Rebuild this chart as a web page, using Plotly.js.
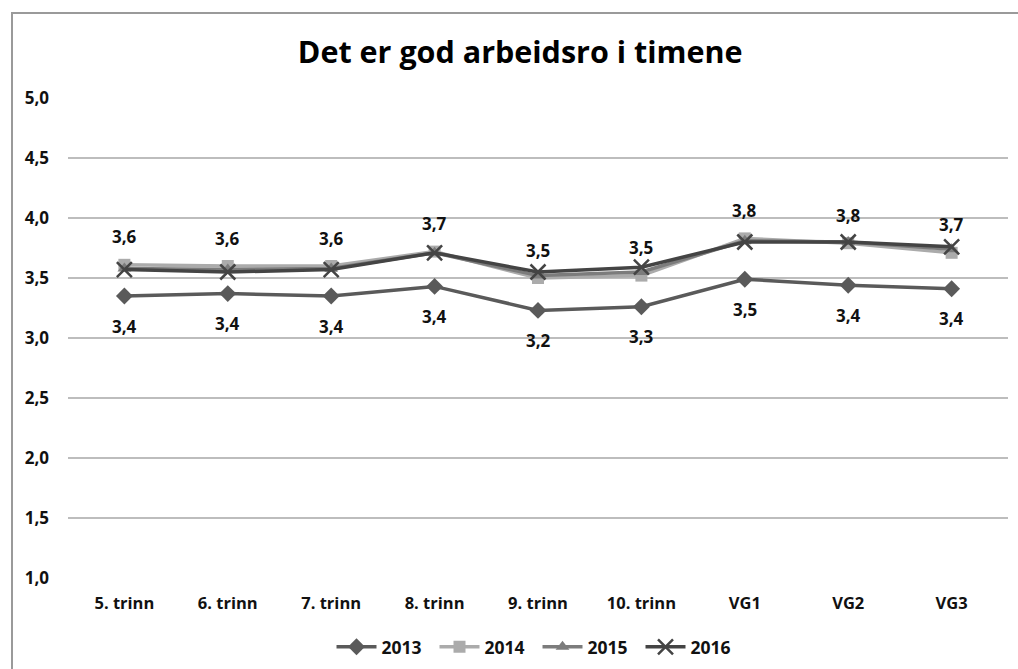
<!DOCTYPE html>
<html>
<head>
<meta charset="utf-8">
<script src="https://cdn.plot.ly/plotly-3.0.1.min.js"></script>
<style>
  html, body { margin: 0; padding: 0; background: #fff; overflow: hidden; }
  #chart { width: 1018px; height: 669px; }
  #frame { position: absolute; left: 11px; top: 12px; width: 1100px; height: 800px;
           border: 2px solid #9a9a9a; pointer-events: none; }
</style>
</head>
<body>
<div id="chart"></div>
<div id="frame"></div>
<script>
const categories = ["5. trinn", "6. trinn", "7. trinn", "8. trinn", "9. trinn", "10. trinn", "VG1", "VG2", "VG3"];
const years = ["2013", "2014", "2015", "2016"];
const v2013 = [3.35, 3.37, 3.35, 3.43, 3.23, 3.26, 3.49, 3.44, 3.41];
const v2014 = [3.61, 3.60, 3.60, 3.72, 3.50, 3.52, 3.83, 3.79, 3.71];
const v2015 = [3.58, 3.57, 3.58, 3.71, 3.52, 3.55, 3.81, 3.80, 3.74];
const v2016 = [3.57, 3.55, 3.57, 3.71, 3.55, 3.59, 3.80, 3.80, 3.76];
const yTicks = [1.0, 1.5, 2.0, 2.5, 3.0, 3.5, 4.0, 4.5, 5.0];

const fmt = v => v.toFixed(1).replace(".", ",");
const FONT = "Open Sans, sans-serif";

const series = [
  { name: years[0], y: v2013, color: "#5a5a5a", symbol: "diamond", size: 13, lw: 0 },
  { name: years[1], y: v2014, color: "#ababab", symbol: "square", size: 12, lw: 0 },
  { name: years[2], y: v2015, color: "#7c7c7c", symbol: "triangle-up", size: 12, lw: 0 },
  { name: years[3], y: v2016, color: "#444444", symbol: "x-thin", size: 15, lw: 2.5 }
];

const traces = series.map(s => ({
  type: "scatter", mode: "lines+markers", name: s.name,
  x: categories, y: s.y,
  line: { color: s.color, width: 3.5 },
  marker: { symbol: s.symbol, size: s.size, color: s.color, line: { color: s.color, width: s.lw } }
}));

const annotations = [];
categories.forEach((c, i) => {
  annotations.push({ x: c, y: v2014[i], xref: "x", yref: "y", text: fmt(v2014[i]),
    showarrow: false, yshift: 28, font: { family: FONT, size: 17, color: "#111", weight: "bold" } });
  annotations.push({ x: c, y: v2013[i], xref: "x", yref: "y", text: fmt(v2013[i]),
    showarrow: false, yshift: -30, font: { family: FONT, size: 17, color: "#111", weight: "bold" } });
});

const layout = {
  width: 1018, height: 669,
  margin: { l: 68, r: 10, t: 98, b: 91, autoexpand: false },
  paper_bgcolor: "#fff", plot_bgcolor: "#fff",
  title: { text: "<b>Det er god arbeidsro i timene</b>", x: 0.511, xref: "container", xanchor: "center",
           y: 0.922, yref: "container", yanchor: "middle",
           font: { family: FONT, size: 30.5, color: "#000" } },
  xaxis: { type: "category", showgrid: false, zeroline: false, showline: false, ticks: "",
           ticklabelstandoff: 13, automargin: false,
           tickfont: { family: FONT, size: 16.5, color: "#111", weight: "bold" } },
  yaxis: { range: [1.0, 5.0], tickvals: yTicks, ticktext: yTicks.map(fmt),
           showgrid: true, gridcolor: "#bdbdbd", gridwidth: 1.5, zeroline: false, showline: false,
           ticks: "", ticklabelstandoff: 18, automargin: false,
           tickfont: { family: FONT, size: 17, color: "#111", weight: "bold" } },
  showlegend: true,
  legend: { orientation: "h", x: 0.528, xref: "container", xanchor: "center",
            y: 0.033, yref: "container", yanchor: "middle",
            font: { family: FONT, size: 17.5, color: "#111", weight: "bold" },
            itemwidth: 40, entrywidth: 48, entrywidthmode: "pixels",
            tracegroupgap: 0, bgcolor: "rgba(0,0,0,0)" },
  annotations: annotations
};

Plotly.newPlot("chart", traces, layout, { displayModeBar: false, staticPlot: true });
</script>
</body>
</html>
